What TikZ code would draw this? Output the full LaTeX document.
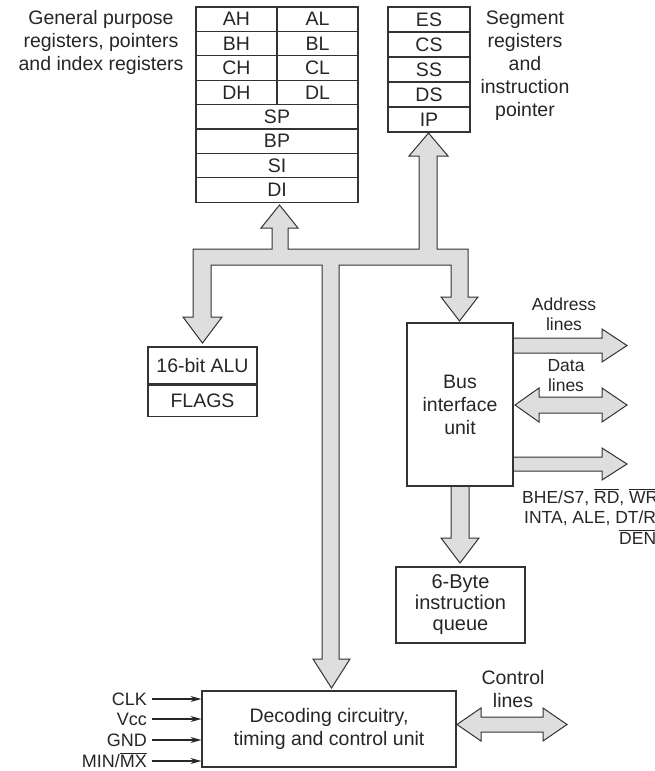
\documentclass[tikz,border=0pt]{standalone}
\usepackage{fontspec}
\setmainfont{Liberation Sans}
\usetikzlibrary{arrows.meta}
\definecolor{busgray}{HTML}{DEDEDE}
\definecolor{edge}{HTML}{333333}
\newcommand{\ovl}[1]{$\overline{\mbox{#1}}$}

\begin{document}
\begin{tikzpicture}[x=1pt,y=-1pt,
    every node/.style={inner sep=0pt, text=black!85},
    txt/.style={font=\fontsize{19.5}{23}\selectfont, align=center},
    small/.style={font=\fontsize{17.5}{20}\selectfont, align=center},
    cell/.style={draw=edge, line width=1.1pt, font=\fontsize{19.5}{23}\selectfont, minimum width=81pt, minimum height=24.4pt},
    wcell/.style={cell, minimum width=162pt},
    scell/.style={cell, minimum width=82pt, minimum height=25pt},
    box/.style={draw=edge, line width=1.1pt, txt},
    bus/.style={draw=edge, line width=1pt, fill=busgray, line join=miter},
    pinlbl/.style={font=\fontsize{18}{20}\selectfont, text height=12.9pt, text depth=0pt, anchor=east},
    pin/.style={draw=black!85, line width=1.3pt, -{Stealth[length=11pt,width=6pt]}}]

\useasboundingbox (0,0) rectangle (654,771);

% general purpose registers
\node[cell] (ah) at (236.5,19.2) {AH};
\node[cell] (al) at (317.5,19.2) {AL};
\node[cell] (bh) at (236.5,43.6) {BH};
\node[cell] (bl) at (317.5,43.6) {BL};
\node[cell] (ch) at (236.5,68) {CH};
\node[cell] (cl) at (317.5,68) {CL};
\node[cell] (dh) at (236.5,92.4) {DH};
\node[cell] (dl) at (317.5,92.4) {DL};
\node[wcell] (sp) at (277,116.8) {SP};
\node[wcell] (bp) at (277,141.2) {BP};
\node[wcell] (si) at (277,165.6) {SI};
\node[wcell] (di) at (277,190) {DI};
\node[txt] (gpr) at (101,42) {General purpose\\registers, pointers\\and index registers};

% segment registers
\node[scell] (es) at (429,19.5) {ES};
\node[scell] (cs) at (429,44.5) {CS};
\node[scell] (ss) at (429,69.5) {SS};
\node[scell] (ds) at (429,94.5) {DS};
\node[scell] (ip) at (429,119.5) {IP};
\node[txt] (seg) at (525,66) {Segment\\registers\\and\\instruction\\pointer};

% internal bus
\draw[bus] (193,249) -- (272,249) -- (272,228) -- (261,228) -- (279.5,205) -- (298,228) -- (288,228) -- (288,249)
  -- (419,249) -- (419,156) -- (409,156) -- (428.5,133) -- (448,156) -- (437,156) -- (437,249)
  -- (468,249) -- (468,297) -- (478,297) -- (459.5,321) -- (441,297) -- (451,297) -- (451,265)
  -- (339,265) -- (339,659) -- (350,659) -- (331.5,688) -- (313,659) -- (322,659) -- (322,265)
  -- (211,265) -- (211,317) -- (222,317) -- (202.5,343) -- (183,317) -- (193,317) -- cycle;

% ALU
\node[box, minimum width=109pt, minimum height=37pt] (alu) at (202.5,365.5) {16-bit ALU};
\node[box, minimum width=109pt, minimum height=31pt, anchor=north] (flags) at (alu.south) {FLAGS};

% bus interface unit
\node[box, minimum width=106pt, minimum height=163pt] (biu) at (460,404.5) {Bus\\interface\\unit};
\draw[bus] (514,338) -- (602,338) -- (602,329) -- (627,345.5) -- (602,362) -- (602,353) -- (514,353);
\node[small] (addr) at (564,314) {Address\\lines};
\draw[bus] (515,405) -- (539,388) -- (539,397) -- (602,397) -- (602,388) -- (627,405) -- (602,422) -- (602,413)
  -- (539,413) -- (539,422) -- cycle;
\node[small] (data) at (566,376) {Data\\lines};
\draw[bus] (514,457) -- (602,457) -- (602,448) -- (627,464) -- (602,480) -- (602,471) -- (514,471);
\node[small, anchor=base west] (bhe) at (522,503) {BHE/S7, \ovl{RD}, \ovl{WR},};
\node[small, anchor=base west] (inta) at (524,523) {INTA, ALE, DT/R,};
\node[small, anchor=base west] (den) at (619,544) {\ovl{DEN}};

% queue
\draw[bus] (451,487) -- (451,538) -- (441,538) -- (460,563) -- (479,538) -- (469,538) -- (469,487);
\node[box, minimum width=129pt, minimum height=76pt, font=\fontsize{20}{21}\selectfont] (queue) at (460.5,605) {6-Byte\\instruction\\queue};

% control unit
\node[box, minimum width=254pt, minimum height=76pt] (dec) at (329,729) {Decoding circuitry,\\timing and control unit};
\draw[bus] (457,724.5) -- (481,708) -- (481,717) -- (543,717) -- (543,708) -- (567,724.5) -- (543,741) -- (543,732)
  -- (481,732) -- (481,741) -- cycle;
\node[txt] (ctrl) at (513,689) {Control\\lines};

\node[pinlbl] (clk) at (147,699) {CLK};
\node[pinlbl] (vcc) at (147,719) {Vcc};
\node[pinlbl] (gnd) at (147,740) {GND};
\node[pinlbl] (mnmx) at (147,761) {MIN/\ovl{MX}};
\draw[pin] ([xshift=5pt]clk.east) -- (clk -| dec.west);
\draw[pin] ([xshift=5pt]vcc.east) -- (vcc -| dec.west);
\draw[pin] ([xshift=5pt]gnd.east) -- (gnd -| dec.west);
\draw[pin] ([xshift=5pt]mnmx.east) -- (mnmx -| dec.west);
\end{tikzpicture}
\end{document}
